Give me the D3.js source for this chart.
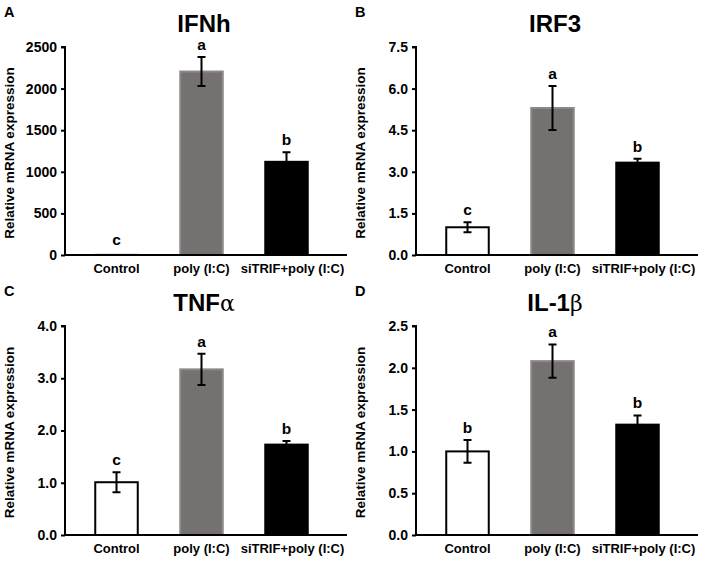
<!DOCTYPE html>
<html><head><meta charset="utf-8">
<script src="https://cdn.jsdelivr.net/npm/d3@7"></script>
<style>body{margin:0;background:#fff}svg{display:block}</style>
</head><body>
<svg id="c" width="702" height="562"></svg>
<script>
const categories = ["Control", "poly (I:C)", "siTRIF+poly (I:C)"];
const panelLetters = ["A", "B", "C", "D"];
const titles = [["IFNh", ""], ["IRF3", ""], ["TNF", "α"], ["IL-1", "β"]];
const valuesA = [1, 2205, 1120];
const errorsA = [0, 175, 115];
const valuesB = [1.0, 5.3, 3.33];
const errorsB = [0.18, 0.79, 0.14];
const valuesC = [1.01, 3.17, 1.73];
const errorsC = [0.19, 0.30, 0.07];
const valuesD = [1.0, 2.08, 1.32];
const errorsD = [0.135, 0.20, 0.11];
const lettersA = ["c", "a", "b"];
const lettersB = ["c", "a", "b"];
const lettersC = ["c", "a", "b"];
const lettersD = ["b", "a", "b"];
const ticksA = [0, 500, 1000, 1500, 2000, 2500];
const ticksB = [0, 1.5, 3.0, 4.5, 6.0, 7.5];
const ticksC = [0, 1.0, 2.0, 3.0, 4.0];
const ticksD = [0, 0.5, 1.0, 1.5, 2.0, 2.5];
const yLabel = "Relative mRNA expression";

const panels = [
  {values: valuesA, errors: errorsA, letters: lettersA, ticks: ticksA, fmt: d3.format("d"), ox: 0, top: 47, bottom: 255},
  {values: valuesB, errors: errorsB, letters: lettersB, ticks: ticksB, fmt: d3.format(".1f"), ox: 351, top: 47, bottom: 255},
  {values: valuesC, errors: errorsC, letters: lettersC, ticks: ticksC, fmt: d3.format(".1f"), ox: 0, top: 326, bottom: 535},
  {values: valuesD, errors: errorsD, letters: lettersD, ticks: ticksD, fmt: d3.format(".1f"), ox: 351, top: 326, bottom: 535}
];
const fills = ["#ffffff", "#767171", "#000000"];
const strokes = ["#000000", "#8c8888", "#000000"];
const FONT = "'Liberation Sans', Arial, sans-serif";

const svg = d3.select("#c");

panels.forEach((p, i) => {
  const g = svg.append("g").attr("transform", `translate(${p.ox},0)`);
  const axisX = 65, axisEnd = 347;
  const x = d3.scaleBand().domain(categories).range([74, 329]).paddingInner(0.5).paddingOuter(0.25);
  const y = d3.scaleLinear().domain([0, d3.max(p.ticks)]).range([p.bottom, p.top]);

  // panel letter
  g.append("text").attr("x", 4).attr("y", p.top - 30)
    .attr("font-family", FONT).attr("font-weight", "bold").attr("font-size", 14.5)
    .text(panelLetters[i]);

  // title
  const t = g.append("text").attr("x", 204).attr("y", p.top - 15).attr("text-anchor", "middle")
    .attr("font-family", FONT).attr("font-weight", "bold").attr("font-size", 24);
  t.append("tspan").text(titles[i][0]);
  if (titles[i][1]) t.append("tspan").attr("font-family", "'DejaVu Serif', 'Liberation Serif', serif")
      .attr("font-weight", "normal").attr("font-size", 22).text(titles[i][1]);

  // y axis
  const yAxis = d3.axisLeft(y).tickValues(p.ticks).tickFormat(p.fmt).tickSize(4).tickPadding(4);
  const ya = g.append("g").attr("transform", `translate(${axisX},0)`).call(yAxis);
  ya.select(".domain").attr("stroke", "#000").attr("stroke-width", 2).attr("d", `M-4,${p.top}H0V${p.bottom}`);
  ya.selectAll(".tick line").attr("stroke", "#000").attr("stroke-width", 2);
  ya.selectAll(".tick text").attr("font-family", FONT).attr("font-weight", "bold").attr("font-size", 14).attr("fill", "#000");

  // y label
  g.append("text").attr("transform", `translate(14,${(p.top + p.bottom) / 2 + 2}) rotate(-90)`)
    .attr("text-anchor", "middle").attr("font-family", FONT).attr("font-weight", "bold").attr("font-size", 13.5)
    .text(yLabel);

  // bars
  g.selectAll("rect.bar").data(categories).enter().append("rect").attr("class", "bar")
    .attr("x", d => x(d)).attr("width", x.bandwidth())
    .attr("y", (d, j) => y(p.values[j])).attr("height", (d, j) => y(0) - y(p.values[j]))
    .attr("fill", (d, j) => fills[j]).attr("stroke", (d, j) => strokes[j]).attr("stroke-width", 2);

  // error bars
  const cap = 4;
  categories.forEach((c, j) => {
    if (!p.errors[j]) return;
    const cx = x(c) + x.bandwidth() / 2;
    const y1 = y(p.values[j] + p.errors[j]), y0 = y(p.values[j] - p.errors[j]);
    g.append("path").attr("d", `M${cx},${y0}V${y1}M${cx - cap},${y1}H${cx + cap}M${cx - cap},${y0}H${cx + cap}`)
      .attr("stroke", "#000").attr("stroke-width", 2).attr("fill", "none");
  });

  // significance letters
  g.selectAll("text.sig").data(categories).enter().append("text").attr("class", "sig")
    .attr("x", d => x(d) + x.bandwidth() / 2)
    .attr("y", (d, j) => y(p.values[j] + p.errors[j]) - (p.errors[j] ? 7 : 10))
    .attr("text-anchor", "middle").attr("font-family", FONT).attr("font-weight", "bold").attr("font-size", 15.5)
    .text((d, j) => p.letters[j]);

  // x axis line
  g.append("line").attr("x1", axisX - 1).attr("x2", axisEnd).attr("y1", p.bottom).attr("y2", p.bottom)
    .attr("stroke", "#000").attr("stroke-width", 2);

  // x labels
  g.selectAll("text.cat").data(categories).enter().append("text").attr("class", "cat")
    .attr("x", (d, j) => x(d) + x.bandwidth() / 2 + (j === 2 ? 6 : 0))
    .attr("y", p.bottom + 18).attr("text-anchor", "middle")
    .attr("font-family", FONT).attr("font-weight", "bold").attr("font-size", 13)
    .text(d => d);
});
</script>
</body></html>
